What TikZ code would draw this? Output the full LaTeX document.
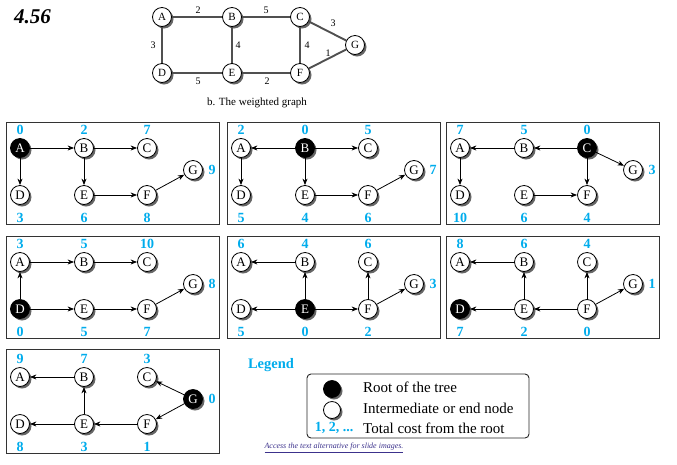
\documentclass[tikz,border=0pt]{standalone}
\usepackage{fontspec}
\setmainfont{Liberation Serif}
\usetikzlibrary{arrows.meta,shadows}
\definecolor{costc}{RGB}{0,172,236}
\definecolor{linkc}{RGB}{60,50,140}
\definecolor{edgec}{RGB}{80,80,80}
\tikzset{
  vtx/.style={circle,draw=black,line width=0.8pt,fill=white,minimum size=19pt,inner sep=0pt,
    font=\fontsize{13}{13}\selectfont,
    drop shadow={shadow xshift=2pt,shadow yshift=-2pt,fill=black,opacity=0.6}},
  rootv/.style={fill=black,text=white},
  vA/.style={},vB/.style={},vC/.style={},vD/.style={},vE/.style={},vF/.style={},vG/.style={},
  cost/.style={font=\bfseries\fontsize{14}{14}\selectfont,text=costc,inner sep=0pt},
  arr/.style={-{Stealth[length=6.5pt,width=5pt]},line width=0.8pt},
  panel/.style={draw=black!80,line width=0.9pt},
  gv/.style={vtx,font=\fontsize{11}{11}\selectfont},
  gedge/.style={draw=edgec,line width=1.9pt},
  wlab/.style={font=\fontsize{10}{10}\selectfont,inner sep=0pt},
  legtext/.style={font=\fontsize{15}{15}\selectfont,anchor=west,inner sep=0pt},
}
\newcommand\pnodes[1]{%
  \node[vtx,vA] (#1A) at (14,26) {A};
  \node[vtx,vB] (#1B) at (78,26) {B};
  \node[vtx,vC] (#1C) at (141,26) {C};
  \node[vtx,vD] (#1D) at (14,73) {D};
  \node[vtx,vE] (#1E) at (78,73) {E};
  \node[vtx,vF] (#1F) at (141,73) {F};
  \node[vtx,vG] (#1G) at (187,48) {G};}
\newcommand\pcosts[8]{%
  \node[cost] (#1cA) at (14,8) {#2};
  \node[cost] (#1cB) at (78,8) {#3};
  \node[cost] (#1cC) at (141,8) {#4};
  \node[cost] (#1cD) at (14,96) {#5};
  \node[cost] (#1cE) at (78,96) {#6};
  \node[cost] (#1cF) at (141,96) {#7};
  \node[cost] (#1cG) at (206,48) {#8};}
\begin{document}
\begin{tikzpicture}[x=1pt,y=-1pt]
\useasboundingbox (0,0) rectangle (677,464);
% title
\node[font=\bfseries\itshape\fontsize{21}{21}\selectfont,anchor=west,inner sep=0pt] (title) at (14,17) {4.56};
% weighted graph
\node[gv] (A) at (162,17) {A};
\node[gv] (B) at (232,17) {B};
\node[gv] (C) at (300,17) {C};
\node[gv] (G) at (355,45) {G};
\node[gv] (D) at (162,73) {D};
\node[gv] (E) at (232,73) {E};
\node[gv] (F) at (300,73) {F};
\draw[gedge] (A) -- (B);
\draw[gedge] (B) -- (C);
\draw[gedge] (A) -- (D);
\draw[gedge] (B) -- (E);
\draw[gedge] (C) -- (F);
\draw[gedge] (C) -- (G);
\draw[gedge] (F) -- (G);
\draw[gedge] (D) -- (E);
\draw[gedge] (E) -- (F);
\node[wlab] (wAB) at (198,10) {2};
\node[wlab] (wBC) at (266,10) {5};
\node[wlab] (wAD) at (153,45) {3};
\node[wlab] (wBE) at (238,45) {4};
\node[wlab] (wCF) at (307,45) {4};
\node[wlab] (wCG) at (333,23) {3};
\node[wlab] (wFG) at (328,53) {1};
\node[wlab] (wDE) at (198,81) {5};
\node[wlab] (wEF) at (267,81) {2};
\node[font=\fontsize{11}{11}\selectfont,inner sep=0pt] (cap) at (257,103) {b. The weighted graph};
% panel 1: root A
\begin{scope}[shift={(6,122)},vA/.style={rootv}]
  \draw[panel] (0,0) rectangle (213,102);
  \pnodes{a}
  \pcosts{a}{0}{2}{7}{3}{6}{8}{9}
  \draw[arr] (aA) -- (aB);
  \draw[arr] (aB) -- (aC);
  \draw[arr] (aA) -- (aD);
  \draw[arr] (aB) -- (aE);
  \draw[arr] (aE) -- (aF);
  \draw[arr] (aF) -- (aG);
\end{scope}
% panel 2: root B
\begin{scope}[shift={(227,122)},vB/.style={rootv}]
  \draw[panel] (0,0) rectangle (213,102);
  \pnodes{b}
  \pcosts{b}{2}{0}{5}{5}{4}{6}{7}
  \draw[arr] (bB) -- (bA);
  \draw[arr] (bB) -- (bC);
  \draw[arr] (bA) -- (bD);
  \draw[arr] (bB) -- (bE);
  \draw[arr] (bE) -- (bF);
  \draw[arr] (bF) -- (bG);
\end{scope}
% panel 3: root C
\begin{scope}[shift={(446,122)},vC/.style={rootv}]
  \draw[panel] (0,0) rectangle (213,102);
  \pnodes{c}
  \pcosts{c}{7}{5}{0}{10}{6}{4}{3}
  \draw[arr] (cC) -- (cB);
  \draw[arr] (cB) -- (cA);
  \draw[arr] (cA) -- (cD);
  \draw[arr] (cC) -- (cF);
  \draw[arr] (cE) -- (cF);
  \draw[arr] (cC) -- (cG);
\end{scope}
% panel 4: root D
\begin{scope}[shift={(6,236)},vD/.style={rootv}]
  \draw[panel] (0,0) rectangle (213,102);
  \pnodes{d}
  \pcosts{d}{3}{5}{10}{0}{5}{7}{8}
  \draw[arr] (dD) -- (dA);
  \draw[arr] (dA) -- (dB);
  \draw[arr] (dB) -- (dC);
  \draw[arr] (dD) -- (dE);
  \draw[arr] (dE) -- (dF);
  \draw[arr] (dF) -- (dG);
\end{scope}
% panel 5: root E
\begin{scope}[shift={(227,236)},vE/.style={rootv}]
  \draw[panel] (0,0) rectangle (213,102);
  \pnodes{e}
  \pcosts{e}{6}{4}{6}{5}{0}{2}{3}
  \draw[arr] (eB) -- (eA);
  \draw[arr] (eE) -- (eB);
  \draw[arr] (eE) -- (eD);
  \draw[arr] (eE) -- (eF);
  \draw[arr] (eF) -- (eC);
  \draw[arr] (eF) -- (eG);
\end{scope}
% panel 6: root F (D drawn dark as in the source)
\begin{scope}[shift={(446,236)},vD/.style={rootv}]
  \draw[panel] (0,0) rectangle (213,102);
  \pnodes{f}
  \pcosts{f}{8}{6}{4}{7}{2}{0}{1}
  \draw[arr] (fB) -- (fA);
  \draw[arr] (fE) -- (fB);
  \draw[arr] (fE) -- (fD);
  \draw[arr] (fF) -- (fE);
  \draw[arr] (fF) -- (fC);
  \draw[arr] (fF) -- (fG);
\end{scope}
% panel 7: root G
\begin{scope}[shift={(6,351)},vG/.style={rootv}]
  \draw[panel] (0,-2) rectangle (213,102);
  \pnodes{g}
  \pcosts{g}{9}{7}{3}{8}{3}{1}{0}
  \draw[arr] (gB) -- (gA);
  \draw[arr] (gE) -- (gB);
  \draw[arr] (gE) -- (gD);
  \draw[arr] (gF) -- (gE);
  \draw[arr] (gG) -- (gC);
  \draw[arr] (gG) -- (gF);
\end{scope}
% legend
\node[font=\bfseries\fontsize{14.5}{14.5}\selectfont,text=costc,inner sep=0pt] (legtitle) at (271,365) {Legend};
\draw[rounded corners=4pt,line width=0.9pt,draw=black!85] (307,374) rectangle (529,438);
\node[vtx,rootv,minimum size=17pt] (lroot) at (332,389) {};
\node[vtx,minimum size=17pt] (lint) at (332,410) {};
\node[cost] (lcost) at (334,428) {1, 2, ...};
\node[legtext] (t1) at (363,387) {Root of the tree};
\node[legtext] (t2) at (363,408) {Intermediate or end node};
\node[legtext] (t3) at (363,428) {Total cost from the root};
\node[font=\itshape\fontsize{8}{8}\selectfont,text=linkc,inner sep=0pt] (link) at (334,448) {\underline{Access the text alternative for slide images.}};
\end{tikzpicture}
\end{document}
